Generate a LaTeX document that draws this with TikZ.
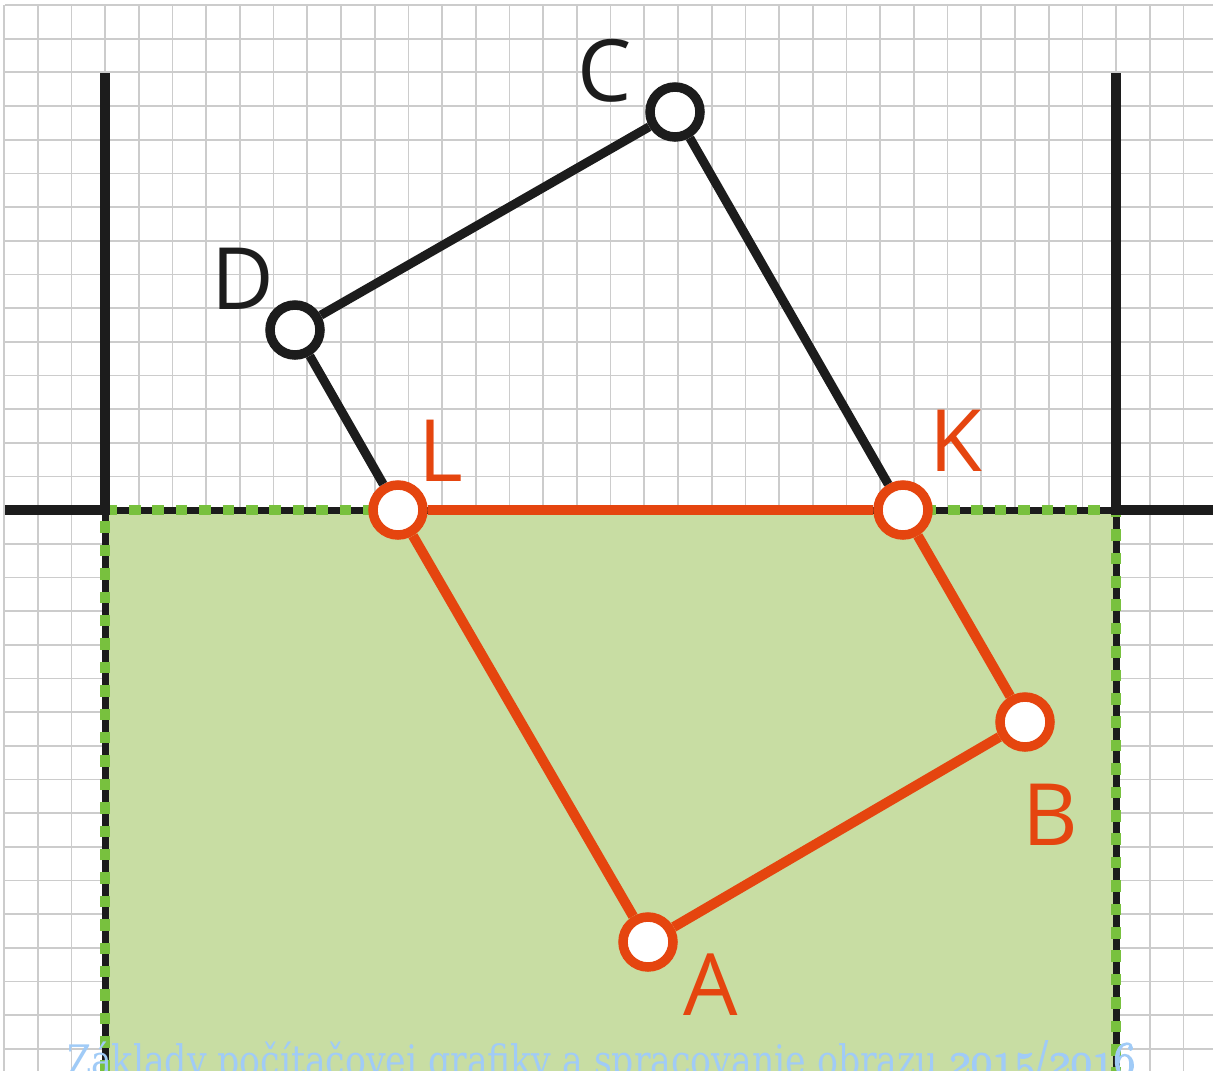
\documentclass[tikz,border=0pt]{standalone}
\usepackage{fix-cm}
\usepackage{graphicx}
\usepackage{fontspec}
\newfontfamily\labelfont{Open Sans}
\newfontfamily\footfont{DejaVu Serif Condensed}
\definecolor{ink}{HTML}{1C1C1C}
\definecolor{redc}{HTML}{E5450F}
\definecolor{fillgreen}{HTML}{C8DDA3}
\definecolor{dotgreen}{HTML}{78C13E}
\definecolor{gridc}{HTML}{CCCCCC}
\definecolor{bluec}{HTML}{A0CBF7}
\newcommand{\osdigits}[1]{{\special{pdf:literal direct 2 Tr 1.4 w}\usefont{OML}{cmm}{m}{it}#1\special{pdf:literal direct 0 Tr}}}
\tikzset{
  gridline/.style={gridc, line width=1.7pt},
  frameline/.style={ink, line width=10pt},
  blackline/.style={ink, line width=9pt},
  redline/.style={redc, line width=10pt, line join=round},
  blackpt/.style={circle, draw=ink, line width=9.5pt, fill=white, minimum size=50pt, inner sep=0pt},
  redpt/.style={circle, draw=redc, line width=9.5pt, fill=white, minimum size=50pt, inner sep=0pt},
  blacklab/.style={text=ink, inner sep=0pt, font=\labelfont\fontsize{86}{90}\selectfont},
  redlab/.style={text=redc, inner sep=0pt, font=\labelfont\fontsize{86}{90}\selectfont},
}
\begin{document}
\begin{tikzpicture}[x=1pt,y=-1pt]
\useasboundingbox (0,0) rectangle (1213,1071);
\fill[white] (0,0) rectangle (1213,1071);
% grid
\foreach \i in {0,...,36} {
  \draw[gridline] ({4+33.7*\i},5) -- ({4+33.7*\i},1071);
}
\foreach \j in {0,...,31} {
  \draw[gridline] (5,{5+33.67*\j}) -- (1213,{5+33.67*\j});
}
% green region
\fill[fillgreen] (105,510) rectangle (1116,1071);
% dashed border
\draw[ink, line width=7pt] (105,1071) -- (105,510) -- (1116,510) -- (1116,1071);
\draw[dotgreen, line width=10pt, dash pattern=on 11.5pt off 11.9pt] (105,1071) -- (105,510) -- (1116,510) -- (1116,1071);
% frame lines
\draw[frameline] (105,73) -- (105,515);
\draw[frameline] (1116,73) -- (1116,515);
\draw[frameline] (5,510) -- (105,510);
\draw[frameline] (1116,510) -- (1213,510);
% points
\node[blackpt] (C) at (675,112) {};
\node[blackpt] (D) at (295,330) {};
\node[redpt] (L) at (398,510) {};
\node[redpt] (K) at (903,510) {};
\node[redpt] (B) at (1025,722) {};
\node[redpt] (A) at (648,942) {};
% edges
\draw[blackline] (D) -- (C);
\draw[blackline] (C) -- (K);
\draw[blackline] (D) -- (L);
\draw[redline] (L) -- (K);
\draw[redline] (K) -- (B);
\draw[redline] (B) -- (A);
\draw[redline] (A) -- (L);
% labels
\node[blacklab] (lC) at (605,71) {C};
\node[blacklab] (lD) at (243,279) {D};
\node[redlab] (lL) at (441,451) {L};
\node[redlab] (lK) at (956,441) {K};
\node[redlab] (lB) at (1050,815) {B};
\node[redlab] (lA) at (711,985) {A};
% footer
\node[anchor=base west, inner sep=0pt, text=bluec] (title) at (67,1075)
  {\resizebox{1068pt}{\height}{\footfont\fontsize{42}{46}\selectfont Základy počítačovej grafiky a spracovanie obrazu \fontsize{48}{52}\selectfont\osdigits{2015}/\osdigits{2016}}};
\end{tikzpicture}
\end{document}
